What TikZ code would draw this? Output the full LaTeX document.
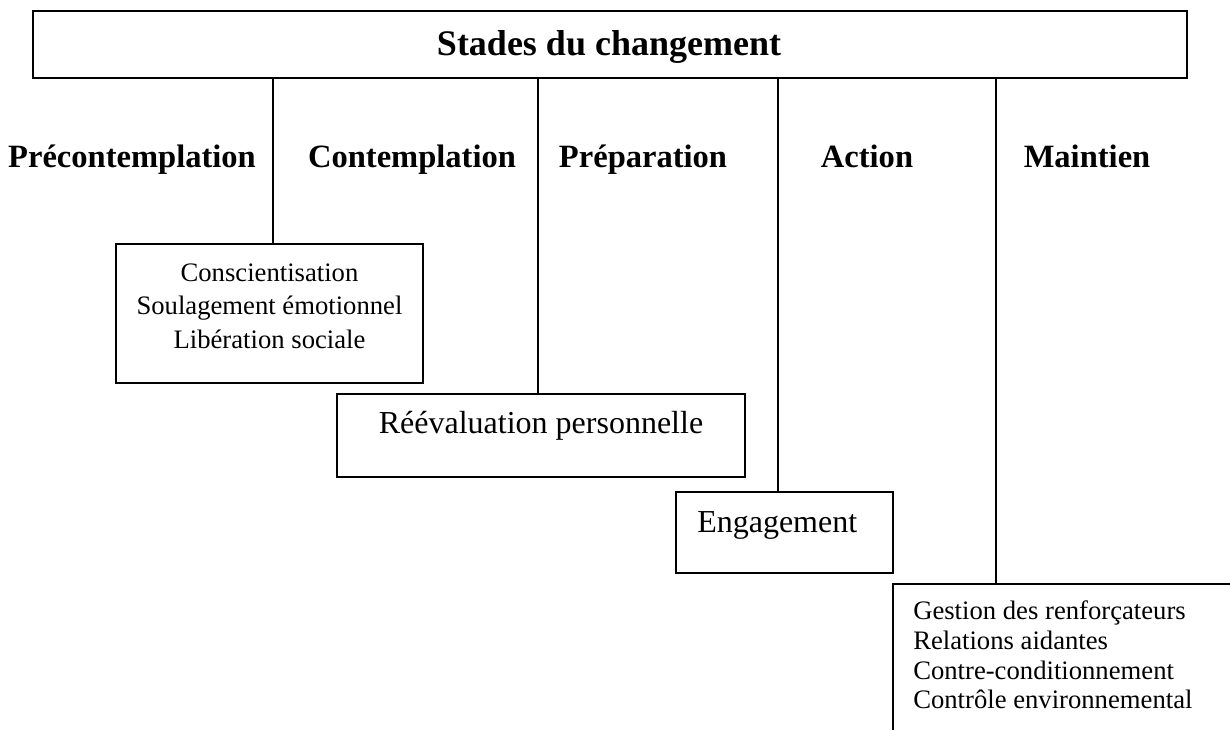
\documentclass[tikz,border=0pt]{standalone}
\usepackage{fontspec}
\setmainfont{Liberation Serif}
\begin{document}
\begin{tikzpicture}[x=0.75pt,y=-0.75pt,
  boxed/.style={draw=black, line width=1.5pt, inner sep=0pt, rectangle},
  link/.style={draw=black, line width=1.5pt},
  stagelbl/.style={font=\fontsize{24.4pt}{28pt}\selectfont\bfseries, anchor=base, inner sep=0pt},
  procbig/.style={font=\fontsize{24pt}{28pt}\selectfont, anchor=base, inner sep=0pt},
  procsmall/.style={font=\fontsize{20pt}{24pt}\selectfont, anchor=base, inner sep=0pt}]
\useasboundingbox (0,0) rectangle (1230,729);
% title box
\node[boxed, minimum width=1154*0.75pt, minimum height=67*0.75pt] (title) at (610,44.5) {};
\node[font=\fontsize{27pt}{32pt}\selectfont\bfseries, anchor=base, inner sep=0pt] (titletxt) at (609,55) {Stades du changement};
% stage labels
\node[stagelbl] (s1) at (132,167) {Précontemplation};
\node[stagelbl] (s2) at (412,167) {Contemplation};
\node[stagelbl] (s3) at (643,167) {Préparation};
\node[stagelbl] (s4) at (867,167) {Action};
\node[stagelbl] (s5) at (1087,167) {Maintien};
% box 1
\node[boxed, minimum width=307*0.75pt, minimum height=139*0.75pt] (b1) at (269.5,313.5) {};
\node[procsmall] (b1a) at (269.5,281) {Conscientisation};
\node[procsmall] (b1b) at (269.5,314.5) {Soulagement émotionnel};
\node[procsmall] (b1c) at (269.5,348) {Libération sociale};
% box 2
\node[boxed, minimum width=408*0.75pt, minimum height=83*0.75pt] (b2) at (541,435.5) {};
\node[procbig] (b2a) at (541,433) {Réévaluation personnelle};
% box 3
\node[boxed, minimum width=217*0.75pt, minimum height=81*0.75pt] (b3) at (784.5,532.5) {};
\node[procbig, anchor=base west] (b3a) at (697,532) {Engagement};
% box 4 (open, runs off the page)
\coordinate (b4tr) at (1232,584);
\coordinate (b4tl) at (893,584);
\coordinate (b4bl) at (893,731);
\draw[link] (b4tr) -- (b4tl) -- (b4bl);
\node[procsmall, anchor=base west] (b4a) at (913,619) {Gestion des renforçateurs};
\node[procsmall, anchor=base west] (b4b) at (913,649) {Relations aidantes};
\node[procsmall, anchor=base west] (b4c) at (913,679) {Contre-conditionnement};
\node[procsmall, anchor=base west] (b4d) at (913,708.5) {Contrôle environnemental};
% connectors
\coordinate (c1) at (273,78);
\coordinate (c2) at (538,78);
\coordinate (c3) at (778,78);
\coordinate (c4) at (996,78);
\draw[link] (c1) -- (c1 |- b1.north);
\draw[link] (c2) -- (c2 |- b2.north);
\draw[link] (c3) -- (c3 |- b3.north);
\draw[link] (c4) -- (c4 |- b4tl);
\end{tikzpicture}
\end{document}
